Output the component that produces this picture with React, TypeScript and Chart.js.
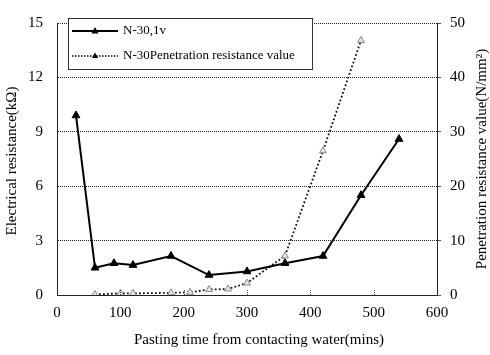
import React, { useEffect, useRef } from "react";
import { Chart, registerables } from "chart.js";

Chart.register(...registerables);

const timeResistance = [30, 60, 90, 120, 180, 240, 300, 360, 420, 480, 540];
const resistance = [9.9, 1.5, 1.75, 1.65, 2.15, 1.1, 1.3, 1.75, 2.15, 5.5, 8.6];
const timePenetration = [60, 100, 120, 180, 210, 240, 270, 300, 360, 420, 480];
const penetration = [0.1, 0.3, 0.3, 0.4, 0.5, 1.0, 1.1, 2.2, 7.2, 26.5, 46.8];
const seriesNames = ["N-30,1v", "N-30Penetration resistance value"];
const xTitle = "Pasting time from contacting water(mins)";
const yLeftTitle = "Electrical resistance(kΩ)";
const yRightTitle = "Penetration resistance value(N/mm²)";

const FONT = "'Liberation Serif', 'Times New Roman', serif";

const legendPlugin = {
  id: "boxLegend",
  afterDraw(chart: any) {
    const ctx = chart.ctx;
    ctx.save();
    const bx = 68, by = 18, bw = 244, bh = 51;
    ctx.fillStyle = "#fff";
    ctx.fillRect(bx, by, bw, bh);
    ctx.strokeStyle = "#333";
    ctx.lineWidth = 1;
    ctx.strokeRect(bx + 0.5, by + 0.5, bw, bh);
    const rows = [31, 56];
    const tri = (cx: number, cy: number, r: number, fill: string) => {
      ctx.beginPath();
      ctx.moveTo(cx, cy - r);
      ctx.lineTo(cx + r * 0.9, cy + r * 0.6);
      ctx.lineTo(cx - r * 0.9, cy + r * 0.6);
      ctx.closePath();
      ctx.fillStyle = fill;
      ctx.fill();
    };
    ctx.strokeStyle = "#000";
    ctx.lineWidth = 2;
    ctx.setLineDash([]);
    ctx.beginPath();
    ctx.moveTo(72, rows[0]);
    ctx.lineTo(118, rows[0]);
    ctx.stroke();
    tri(95, rows[0], 4, "#000");
    ctx.lineWidth = 1.5;
    ctx.setLineDash([1.5, 1.5]);
    ctx.beginPath();
    ctx.moveTo(72, rows[1]);
    ctx.lineTo(118, rows[1]);
    ctx.stroke();
    ctx.setLineDash([]);
    tri(95, rows[1], 3.5, "#000");
    ctx.fillStyle = "#000";
    ctx.font = "13px " + FONT;
    ctx.textBaseline = "middle";
    ctx.textAlign = "left";
    ctx.fillText(seriesNames[0], 123, rows[0]);
    ctx.fillText(seriesNames[1], 123, rows[1]);
    ctx.restore();
  },
};

const titlesPlugin = {
  id: "axisTitles",
  afterDraw(chart: any) {
    const ctx = chart.ctx;
    const area = chart.chartArea;
    const cy = (area.top + area.bottom) / 2;
    ctx.save();
    ctx.fillStyle = "#000";
    ctx.font = "15px " + FONT;
    ctx.textAlign = "center";
    ctx.textBaseline = "middle";
    ctx.fillText(xTitle, 259, 340);
    ctx.save();
    ctx.translate(12, cy + 2);
    ctx.rotate(-Math.PI / 2);
    ctx.fillText(yLeftTitle, 0, 0);
    ctx.restore();
    ctx.save();
    ctx.translate(482, cy);
    ctx.rotate(-Math.PI / 2);
    ctx.fillText(yRightTitle, 0, 0);
    ctx.restore();
    ctx.restore();
  },
};

const tickMarksPlugin = {
  id: "xTickMarks",
  afterDatasetsDraw(chart: any) {
    const ctx = chart.ctx;
    const xs = chart.scales.x;
    const area = chart.chartArea;
    ctx.save();
    ctx.strokeStyle = "#444";
    ctx.lineWidth = 1;
    ctx.setLineDash([1, 1]);
    for (let v = 100; v < 600; v += 100) {
      const px = Math.round(xs.getPixelForValue(v)) + 0.5;
      ctx.beginPath();
      ctx.moveTo(px, area.bottom);
      ctx.lineTo(px, area.bottom - 5);
      ctx.stroke();
    }
    ctx.restore();
  },
};

export default function App() {
  const ref = useRef<HTMLCanvasElement>(null);
  useEffect(() => {
    if (!ref.current) return;
    const tickFont = { family: FONT, size: 15, lineHeight: 1.2 };
    const chart = new Chart(ref.current, {
      type: "line",
      data: {
        datasets: [
          {
            label: seriesNames[0],
            data: timeResistance.map((t, i) => ({ x: t, y: resistance[i] })),
            yAxisID: "y",
            borderColor: "#000",
            backgroundColor: "#000",
            borderWidth: 2,
            pointStyle: "triangle",
            pointRadius: 4.5,
            pointBackgroundColor: "#000",
            pointBorderColor: "#000",
            pointBorderWidth: 1,
            tension: 0,
            order: 1,
          },
          {
            label: seriesNames[1],
            data: timePenetration.map((t, i) => ({ x: t, y: penetration[i] })),
            yAxisID: "y1",
            borderColor: "#111",
            backgroundColor: "#ccc",
            borderWidth: 1.8,
            borderDash: [1.8, 2.2],
            pointStyle: "triangle",
            pointRadius: 4,
            pointBackgroundColor: "#e6e6e6",
            pointBorderColor: "#888",
            pointBorderWidth: 1,
            tension: 0,
            order: 2,
          },
        ],
      },
      options: {
        responsive: false,
        animation: false,
        layout: { padding: { top: 12, left: 0, right: 0, bottom: 0 } },
        plugins: { legend: { display: false }, tooltip: { enabled: false } },
        scales: {
          x: {
            type: "linear",
            min: 0,
            max: 600,
            ticks: { stepSize: 100, color: "#000", padding: 9, font: tickFont },
            grid: { display: false, drawTicks: false },
            border: { display: true, color: "#222", dash: [1, 1], width: 1 },
            title: { display: false },
            afterFit: (s: any) => {
              s.height = 60;
            },
          },
          y: {
            type: "linear",
            position: "left",
            min: 0,
            max: 15,
            ticks: { stepSize: 3, color: "#000", padding: 14, font: tickFont },
            grid: { color: "#222", lineWidth: 1, drawTicks: false },
            border: { display: true, color: "#222", dash: [1, 1], width: 1 },
            title: { display: false },
            afterFit: (s: any) => {
              s.width = 57;
            },
          },
          y1: {
            type: "linear",
            position: "right",
            min: 0,
            max: 50,
            ticks: { stepSize: 10, color: "#000", padding: 9, font: tickFont },
            grid: { drawOnChartArea: false, drawTicks: true, tickLength: 4, color: "#555" },
            border: { display: true, color: "#222", dash: [1, 1], width: 1 },
            title: { display: false },
            afterFit: (s: any) => {
              s.width = 53;
            },
          },
        },
      },
      plugins: [tickMarksPlugin, legendPlugin, titlesPlugin],
    } as any);
    return () => chart.destroy();
  }, []);
  return (
    <div style={{ position: "fixed", left: 0, top: 0, width: 490, height: 355, background: "#fff" }}>
      <canvas ref={ref} width={490} height={355} style={{ width: 490, height: 355 }} />
    </div>
  );
}
